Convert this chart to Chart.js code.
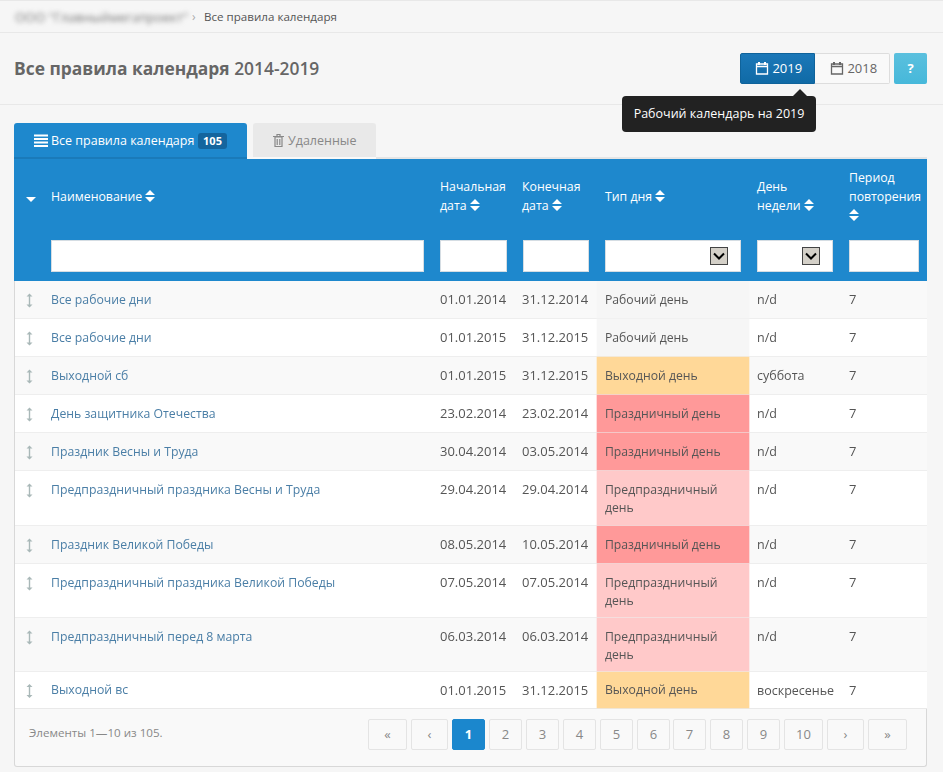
<!DOCTYPE html>
<html lang="ru">
<head>
<meta charset="utf-8">
<title>Все правила календаря</title>
<script src="https://cdn.jsdelivr.net/npm/chart.js@4"></script>
<style>
  html, body { margin: 0; padding: 0; }
  body { width: 943px; height: 772px; position: relative; overflow: hidden; background: #f6f6f6;
         font: 12.5px "Open Sans", sans-serif; color: #555; }
  .abs, .th, .inp, .line { position: absolute; }
  .line { background: #e8e8e8; height: 1px; left: 0; width: 943px; }
  .th { color: #fff; line-height: 19px; font-size: 12.3px; }
  .th svg { vertical-align: -1px; }
  .inp { background: #fff; border: 1px solid #d5dde3; box-sizing: border-box; top: 240px; height: 32px; }
  .arrow { position: absolute; top: 6px; width: 18px; height: 18px; box-sizing: border-box;
           background: #d4d0c8; border: 1px solid #444; }
  .btn { position: absolute; top: 53px; height: 31px; box-sizing: border-box; line-height: 29px; font-size: 13px; }
  #pager a { position: absolute; top: 719px; height: 31px; box-sizing: border-box; text-align: center; line-height: 29px;
             border: 1px solid #e4e4e4; border-radius: 2px; color: #888; background: #f9f9f9; font-size: 13px; }
  #pager a.on { background: #1b87cd; border-color: #1b87cd; color: #fff; font-weight: 700; }
  #rules { position: absolute; left: 15px; top: 281px; background: #e2e2e2; }
</style>
</head>
<body>
<svg width="0" height="0" style="position:absolute">
  <symbol id="sort" viewBox="0 0 10 12"><path d="M0 5 L5 0 L10 5 Z M0 7 L10 7 L5 12 Z" fill="#fff"/></symbol>
  <symbol id="cal" viewBox="0 0 14 14"><path d="M1.5 3 H12.5 V13 H1.5 Z M1.5 5.5 H12.5" fill="none" stroke="currentColor" stroke-width="1.3"/><path d="M3 1 H5 V4 H3 Z M9 1 H11 V4 H9 Z" fill="currentColor"/></symbol>
  <symbol id="chev" viewBox="0 0 16 16"><path d="M3 5.5 L8 10.5 L13 5.5" fill="none" stroke="#000" stroke-width="2"/></symbol>
</svg>

<!-- breadcrumb -->
<div class="line" style="top:0;height:1px"></div>
<div class="line" style="top:32px"></div>
<div class="abs" style="left:15px;top:8px;font-size:13px;color:#777;filter:blur(2.5px)">ООО "Главныймегапроект"</div>
<div class="abs" style="left:192px;top:8px;font-size:12px;color:#aaa">›</div>
<div class="abs" style="left:204px;top:9px;font-size:11.6px;color:#555">Все правила календаря</div>

<!-- title -->
<div class="abs" style="left:14px;top:56px;font-size:17.4px;font-weight:700;color:#666">Все правила календаря <span style="font-weight:600">2014-2019</span></div>
<div class="line" style="top:104px"></div>

<!-- year buttons -->
<div class="btn" style="left:740px;width:75px;background:linear-gradient(#1b78b8,#106aa6);border:1px solid #0f639b;border-radius:2px 0 0 2px;color:#fff;padding-left:14px">
  <svg width="14" height="14" style="vertical-align:-2px;color:#fff"><use href="#cal"/></svg>&nbsp;2019</div>
<div class="btn" style="left:815px;width:75px;background:#f9f9f9;border:1px solid #ddd;border-left:0;border-radius:0 2px 2px 0;color:#666;padding-left:15px">
  <svg width="14" height="14" style="vertical-align:-2px;color:#666"><use href="#cal"/></svg>&nbsp;2018</div>
<div class="btn" style="left:894px;width:33px;background:linear-gradient(#5bc0de,#46b8da);border-radius:2px;color:#fff;text-align:center;font-weight:700;line-height:31px">?</div>

<!-- tooltip -->
<div class="abs" style="left:793px;top:89px;width:0;height:0;border:7px solid transparent;border-top:0;border-bottom:7px solid #222"></div>
<div class="abs" style="left:622px;top:96px;width:194px;height:36px;background:#222;border-radius:4px;color:#fff;line-height:36px;text-align:center">Рабочий календарь на 2019</div>

<!-- tabs -->
<div class="abs" style="left:14px;top:123px;width:233px;height:36px;background:#1e88cd;border-radius:3px 3px 0 0;color:#fff;line-height:35px">
  <svg class="abs" style="left:20px;top:11px" width="14" height="13"><path d="M0 1.5 H14 M0 5 H14 M0 8.5 H14 M0 12 H14" stroke="#fff" stroke-width="2"/></svg>
  <span class="abs" style="left:37px;white-space:nowrap">Все правила календаря</span>
  <span class="abs" style="left:184px;top:10px;width:29px;height:16px;background:#14659e;border-radius:3px;line-height:16px;text-align:center;font-size:11px;font-weight:700">105</span>
</div>
<div class="abs" style="left:253px;top:123px;width:123px;height:34px;background:#e9e9e9;border-radius:3px 3px 0 0;color:#888;line-height:35px">
  <svg class="abs" style="left:20px;top:11px" width="11" height="13"><path d="M2 3 H9 V12.5 H2 Z M0 2.5 H11 M4 2.5 V0.5 H7 V2.5 M4.2 5 V11 M6.8 5 V11" fill="none" stroke="#888" stroke-width="1.2"/></svg>
  <span class="abs" style="left:35px">Удаленные</span>
</div>

<!-- panel + table header -->
<div class="abs" style="left:14px;top:157px;width:913px;height:610px;box-sizing:border-box;background:#f9f9f9;border:1px solid #d8d8d8;border-top:0;border-radius:0 0 3px 3px"></div>
<div class="abs" style="left:376px;top:157px;width:551px;height:2px;background:#e5e5e5"></div>
<div class="abs" style="left:14px;top:157px;width:233px;height:2px;background:#1a7ab9"></div>
<div class="abs" style="left:14px;top:159px;width:913px;height:122px;background:#1e88cd"></div>
<svg class="abs" style="left:26px;top:197px" width="10" height="6"><path d="M0 0 H10 L5 5 Z" fill="#fff"/></svg>

<div id="heads"></div>
<div class="inp" style="left:51px;width:373px"></div>
<div class="inp" style="left:440px;width:67px"></div>
<div class="inp" style="left:523px;width:66px"></div>
<div class="inp" style="left:605px;width:136px"><div class="arrow" style="left:104px"><svg width="16" height="16"><use href="#chev"/></svg></div></div>
<div class="inp" style="left:757px;width:76px"><div class="arrow" style="left:44px"><svg width="16" height="16"><use href="#chev"/></svg></div></div>
<div class="inp" style="left:849px;width:70px"></div>

<canvas id="rules" width="912" height="428"></canvas>

<!-- footer -->
<div class="abs" style="left:29px;top:725px;font-size:11.6px;color:#888">Элементы 1—10 из 105.</div>
<div id="pager"></div>

<script>
// table rows
const ruleNames = ['Все рабочие дни', 'Все рабочие дни', 'Выходной сб', 'День защитника Отечества', 'Праздник Весны и Труда',
    'Предпраздничный праздника Весны и Труда', 'Праздник Великой Победы', 'Предпраздничный праздника Великой Победы',
    'Предпраздничный перед 8 марта', 'Выходной вс'];
const startDates = ['01.01.2014', '01.01.2015', '01.01.2015', '23.02.2014', '30.04.2014', '29.04.2014', '08.05.2014', '07.05.2014', '06.03.2014', '01.01.2015'];
const endDates = ['31.12.2014', '31.12.2015', '31.12.2015', '23.02.2014', '03.05.2014', '29.04.2014', '10.05.2014', '07.05.2014', '06.03.2014', '31.12.2015'];
const dayTypes = ['Рабочий день', 'Рабочий день', 'Выходной день', 'Праздничный день', 'Праздничный день',
    'Предпраздничный день', 'Праздничный день', 'Предпраздничный день', 'Предпраздничный день', 'Выходной день'];
const weekDays = ['n/d', 'n/d', 'суббота', 'n/d', 'n/d', 'n/d', 'n/d', 'n/d', 'n/d', 'воскресенье'];
const periods = [7, 7, 7, 7, 7, 7, 7, 7, 7, 7];

const pageLabels = ['«', '‹', '1', '2', '3', '4', '5', '6', '7', '8', '9', '10', '›', '»'];
const pageWidths = [39, 37, 33, 33, 33, 33, 33, 33, 33, 33, 33, 39, 37, 39];

const typeColors = {
    'Рабочий день': '#f6f6f6',
    'Выходной день': '#ffd898',
    'Праздничный день': '#ff9999',
    'Предпраздничный день': '#ffc9c9'
};

// header cells
const heads = [
    [51, 187, ['Наименование #']], [440, 177, ['Начальная', 'дата #']], [522, 177, ['Конечная', 'дата #']],
    [605, 187, ['Тип дня #']], [757, 177, ['День', 'недели #']], [849, 168, ['Период', 'повторения', '#']]
];
const sortIcon = '<svg width="10" height="12"><use href="#sort"/></svg>';
document.getElementById('heads').innerHTML = heads.map(h =>
    '<div class="th" style="left:' + h[0] + 'px;top:' + h[1] + 'px;white-space:nowrap">' +
    h[2].join('<br>').replace('#', sortIcon) + '</div>').join('');

// pager
let pagerX = 368;
document.getElementById('pager').innerHTML = pageLabels.map((label, i) => {
    const html = '<a class="' + (label === '1' ? 'on' : '') + '" style="left:' + Math.round(pagerX) + 'px;width:' + pageWidths[i] + 'px">' + label + '</a>';
    pagerX += pageWidths[i] + 3.93;
    return html;
}).join('');

// two-line rows are the ones whose day type wraps
const rowLines = dayTypes.map(t => t === 'Предпраздничный день' ? 2 : 1);
const rowTops = [];
let rowY = 0.1;
rowLines.forEach(n => { rowTops.push(Math.round(rowY)); rowY += n === 2 ? 54.45 : 38; });
const rowHeight = i => (i < rowTops.length - 1 ? rowTops[i + 1] : 428) - rowTops[i];
const firstLine = i => rowTops[i] + Math.min(rowHeight(i), 38) / 2 + 0.5;

const tableLeft = 15, tableRight = 927, typeLeft = 597, typeRight = 749;

// one dataset per bar thickness, the thickness is not per bar in Chart.js
function rowDatasets(from, to, colorOf, order) {
    const sets = [];
    [...new Set(ruleNames.map((n, i) => rowHeight(i)))].forEach(h => {
        const idx = ruleNames.map((n, i) => i).filter(i => rowHeight(i) === h);
        sets.push({
            data: idx.map(i => ({ y: rowTops[i] + (h - 1) / 2, x: [from, to] })),
            backgroundColor: idx.map(colorOf),
            barThickness: h - 1,
            grouped: false,
            order: order
        });
    });
    return sets;
}

const stripes = rowDatasets(tableLeft, tableRight, i => i % 2 === 0 ? '#f9f9f9' : '#ffffff', 2);
const cells = rowDatasets(typeLeft, typeRight, i => typeColors[dayTypes[i]], 1);

const cellText = {
    id: 'cellText',
    afterDatasetsDraw(chart) {
        const { ctx, scales: { x, y } } = chart;
        ctx.save();
        ctx.textBaseline = 'middle';
        ruleNames.forEach((name, i) => {
            const mid = y.getPixelForValue(firstLine(i));
            ctx.fillStyle = '#555';
            ctx.font = '13px "Open Sans"';
            ctx.fillText(startDates[i], x.getPixelForValue(440), mid);
            ctx.fillText(endDates[i], x.getPixelForValue(522), mid);
            ctx.fillText(periods[i], x.getPixelForValue(849), mid);
            ctx.font = '12.5px "Open Sans"';
            ctx.fillText(weekDays[i], x.getPixelForValue(757), mid);
            ctx.font = '12.2px "Open Sans"';
            if (rowLines[i] === 2) {
                const words = dayTypes[i].split(' ');
                ctx.fillText(words[0], x.getPixelForValue(605), mid);
                ctx.fillText(words[1], x.getPixelForValue(605), mid + 18);
            } else {
                ctx.fillText(dayTypes[i], x.getPixelForValue(605), mid);
            }
            // drag handle
            const hx = x.getPixelForValue(29) + 0.5;
            ctx.strokeStyle = '#a9b8b8';
            ctx.fillStyle = '#a9b8b8';
            ctx.lineWidth = 1.4;
            ctx.beginPath();
            ctx.moveTo(hx, mid - 5);
            ctx.lineTo(hx, mid + 5);
            ctx.stroke();
            ctx.beginPath();
            ctx.moveTo(hx - 3, mid - 4); ctx.lineTo(hx, mid - 7); ctx.lineTo(hx + 3, mid - 4); ctx.closePath();
            ctx.moveTo(hx - 3, mid + 4); ctx.lineTo(hx, mid + 7); ctx.lineTo(hx + 3, mid + 4); ctx.closePath();
            ctx.fill();
        });
        ctx.restore();
    }
};

new Chart(document.getElementById('rules').getContext('2d'), {
    type: 'bar',
    data: { datasets: cells.concat(stripes) },
    plugins: [cellText],
    options: {
        indexAxis: 'y',
        responsive: false,
        animation: false,
        devicePixelRatio: 1,
        layout: { padding: 0 },
        plugins: { legend: { display: false }, tooltip: { enabled: false } },
        scales: {
            x: { type: 'linear', display: false, min: tableLeft, max: tableRight },
            y: {
                type: 'linear',
                reverse: true,
                min: 0,
                max: 428,
                offset: false,
                grid: { display: false },
                border: { display: false },
                afterBuildTicks: axis => { axis.ticks = rowTops.map((t, i) => ({ value: firstLine(i) })); },
                // mirrored labels sit inside the plot, so the axis takes no room
                afterFit: axis => { axis.width = 0; axis.paddingTop = 0; axis.paddingBottom = 0; },
                ticks: {
                    mirror: true,
                    padding: 36,
                    z: 1,
                    autoSkip: false,
                    color: '#4a7ea6',
                    font: { family: 'Open Sans', size: 12.25 },
                    callback: (value, index) => ruleNames[index]
                }
            }
        }
    }
});
</script>
</body>
</html>
